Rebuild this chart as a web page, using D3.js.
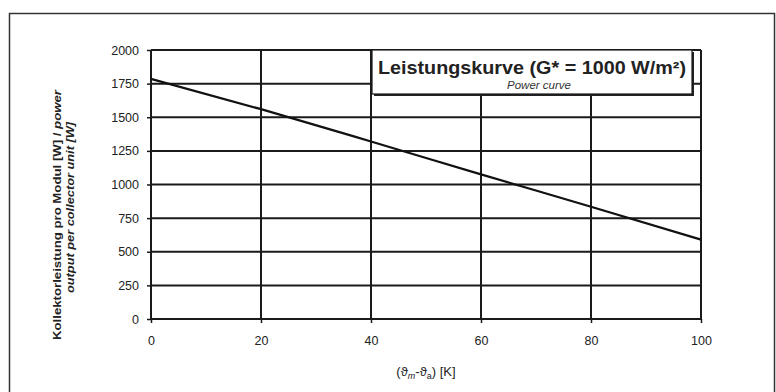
<!DOCTYPE html>
<html><head><meta charset="utf-8">
<script src="https://cdn.jsdelivr.net/npm/d3@7"></script>
<style>
html,body{margin:0;padding:0;background:#fff;}
svg{display:block;font-family:"Liberation Sans",Arial,sans-serif;}
</style></head><body>
<svg id="c" width="776" height="392"></svg>
<script>
const xValues = [0, 20, 40, 60, 80, 100];
const powerValues = [1785, 1560, 1320, 1075, 835, 590];
const xTicks = [0, 20, 40, 60, 80, 100];
const yTicks = [0, 250, 500, 750, 1000, 1250, 1500, 1750, 2000];
const titleMain = "Leistungskurve (G* = 1000 W/m²)";
const titleSub = "Power curve";

const svg = d3.select("#c");
const m = {l:151, r:701, t:50, b:319};
const x = d3.scaleLinear().domain([0,100]).range([m.l, m.r]);
const y = d3.scaleLinear().domain([0,2000]).range([m.b, m.t]);

// outer frame
svg.append("rect").attr("x",9.5).attr("y",13.5).attr("width",765).attr("height",400)
  .attr("fill","none").attr("stroke","#333").attr("stroke-width",1.5);

// grid
const g = svg.append("g");
g.selectAll(".hg").data(yTicks).join("line")
  .attr("x1",m.l).attr("x2",m.r).attr("y1",d=>y(d)).attr("y2",d=>y(d))
  .attr("stroke","#1a1a1a").attr("stroke-width",2);
g.selectAll(".vg").data(xTicks).join("line")
  .attr("y1",m.t).attr("y2",m.b).attr("x1",d=>x(d)).attr("x2",d=>x(d))
  .attr("stroke","#1a1a1a").attr("stroke-width",2);

// axes
const fmt = d3.format("d");
const ax = svg.append("g").attr("transform",`translate(0,${m.b})`)
  .call(d3.axisBottom(x).tickValues(xTicks).tickFormat(fmt).tickSize(4).tickPadding(13));
const ay = svg.append("g").attr("transform",`translate(${m.l},0)`)
  .call(d3.axisLeft(y).tickValues(yTicks).tickFormat(fmt).tickSize(4).tickPadding(8));
[ax,ay].forEach(a=>{
  a.select(".domain").remove();
  a.selectAll(".tick line").attr("stroke","#1a1a1a").attr("stroke-width",1.5);
  a.selectAll("text").attr("font-size",12.5).attr("fill","#222")
    .attr("font-family","'Liberation Sans',Arial,sans-serif");
});

// line
const line = d3.line().x((d,i)=>x(xValues[i])).y(d=>y(d)).curve(d3.curveMonotoneX);
svg.append("path").datum(powerValues).attr("d",line)
  .attr("fill","none").attr("stroke","#111").attr("stroke-width",2.2);

// legend box
const bx=372, by=50, bw=320, bh=44;
svg.append("rect").attr("x",bx+2).attr("y",by+2).attr("width",bw).attr("height",bh).attr("fill","#222");
svg.append("rect").attr("x",bx).attr("y",by).attr("width",bw).attr("height",bh)
  .attr("fill","#fff").attr("stroke","#1a1a1a").attr("stroke-width",1.2);
svg.append("text").attr("x",bx+6).attr("y",by+24)
  .attr("font-size",18).attr("font-weight","bold").attr("fill","#222")
  .attr("textLength",308).attr("lengthAdjust","spacingAndGlyphs").text(titleMain);
svg.append("text").attr("x",bx+bw/2+7).attr("y",by+39).attr("text-anchor","middle")
  .attr("font-size",11.5).attr("font-style","italic").attr("fill","#333").text(titleSub);

// y axis label
const yl = svg.append("g").attr("transform","translate(0,340) rotate(-90)");
yl.append("text").attr("x",0).attr("y",61)
  .attr("font-size",11.5).attr("font-weight","bold").attr("fill","#222")
  .attr("textLength",250).attr("lengthAdjust","spacingAndGlyphs")
  .text("Kollektorleistung pro Modul [W] / ")
  .append("tspan").attr("font-style","italic").text("power");
yl.append("text").attr("x",47).attr("y",74)
  .attr("font-size",11.5).attr("font-weight","bold").attr("font-style","italic").attr("fill","#222")
  .attr("textLength",171).attr("lengthAdjust","spacingAndGlyphs")
  .text("output per collector unit [W]");

// x axis label
const xl = svg.append("text").attr("x",426).attr("y",376).attr("text-anchor","middle")
  .attr("font-size",13).attr("fill","#222");
xl.append("tspan").text("(ϑ");
xl.append("tspan").attr("font-size",9).attr("dy",3).attr("font-style","italic").text("m");
xl.append("tspan").attr("dy",-3).text("-ϑ");
xl.append("tspan").attr("font-size",9).attr("dy",3).text("a");
xl.append("tspan").attr("dy",-3).text(") [K]");
</script>
</body></html>
